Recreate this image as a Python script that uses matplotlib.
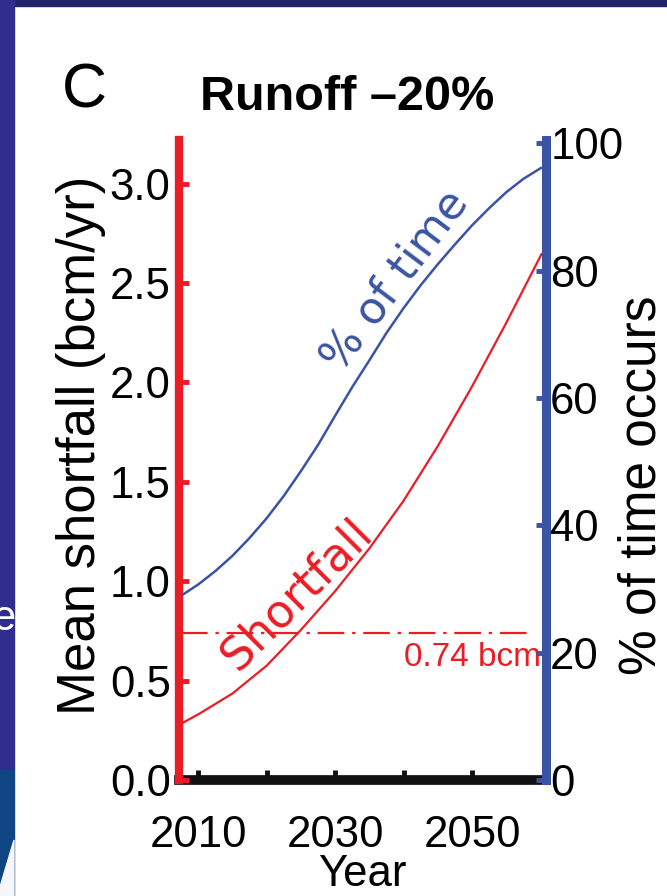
import numpy as np
import matplotlib
matplotlib.use("Agg")
import matplotlib.pyplot as plt
from matplotlib.patches import Rectangle, Polygon


# ---------------------------------------
# Data
# ---------------------------------------

years_pct = [2007.6, 2010, 2012.5, 2015, 2017.5, 2020, 2022.5, 2025,
             2027.5, 2030, 2032.5, 2035, 2037.5, 2040, 2042.5, 2045,
             2047.5, 2050, 2052.5, 2055, 2057.5, 2060.2]
pct_time = [29.0, 30.7, 32.8, 35.2, 38.0, 41.1, 44.6, 48.5,
            52.6, 57.2, 61.7, 65.9, 70.2, 74.1, 77.7, 81.0,
            84.1, 87.1, 89.8, 92.3, 94.4, 96.2]

years_short = [2007.6, 2010, 2015, 2020, 2025, 2030,
               2035, 2040, 2045, 2050, 2055, 2060.2]
shortfall = [0.285, 0.33, 0.435, 0.575, 0.755, 0.95,
             1.165, 1.405, 1.68, 1.98, 2.30, 2.65]

threshold = 0.74
threshold_span = [2007.5, 2058.0]

left_ticks = [0.0, 0.5, 1.0, 1.5, 2.0, 2.5, 3.0]
right_ticks = [0, 20, 40, 60, 80, 100]
year_ticks = [2010, 2020, 2030, 2040, 2050]
year_labels = ["2010", "", "2030", "", "2050"]


RED = "#ec1c24"
BLUE = "#3a53a4"
FONT = "Liberation Sans"

plt.rcParams["font.family"] = FONT


fig = plt.figure(figsize=(6.67, 8.96), dpi=100)

# slide background bits around the panel
fig.patches.append(Rectangle((0, 1 - 6 / 896), 1, 6 / 896,
                             transform=fig.transFigure, color="#22226a", zorder=0))
fig.patches.append(Rectangle((0, 126 / 896), 14 / 667, 1,
                             transform=fig.transFigure, color="#302d8e", zorder=0))
fig.patches.append(Rectangle((0, 0), 14 / 667, 126 / 896,
                             transform=fig.transFigure, color="#0f4582", zorder=0))
fig.patches.append(Polygon([(0, 0), (14 / 667, 0), (14 / 667, 56 / 896), (0, 9 / 896)],
                           closed=True, transform=fig.transFigure,
                           color="#f4f6fa", zorder=0))
fig.text(-0.012, 1 - 630 / 896, "e", color="white", fontsize=30, zorder=1)


ax = fig.add_axes([179 / 667, 116 / 896, 367 / 667, 640 / 896])
ax2 = ax.twinx()

ax.set_xlim(2007.2, 2060.8)
ax.set_ylim(0, 3.22)
ax2.set_ylim(0, 100.5)


# ---------------------------------------
# Curves
# ---------------------------------------

ax2.plot(years_pct, pct_time, color=BLUE, lw=1.8, solid_capstyle="butt",
         solid_joinstyle="round")

ax.plot(years_short, shortfall, color=RED, lw=1.6, solid_capstyle="butt",
        solid_joinstyle="round")

ax.plot(threshold_span, [threshold, threshold],
        color=RED, lw=1.6, ls=(0, (12, 3.5, 1.5, 3.5)))

ax.text(2060.0, 0.618, "0.74 bcm", color=RED, fontsize=24,
        ha="right", va="center")

ax.text(2038.7, 2.51, "% of time", color=BLUE, fontsize=32,
        family="DejaVu Sans", rotation=53, ha="center", va="center",
        rotation_mode="anchor")

ax.text(2024.4, 0.93, "Shortfall", color=RED, fontsize=33,
        family="DejaVu Sans", rotation=45, ha="center", va="center",
        rotation_mode="anchor")


# ---------------------------------------
# Axes styling
# ---------------------------------------

for s in ["top", "right"]:
    ax.spines[s].set_visible(False)
for s in ["top", "left", "bottom"]:
    ax2.spines[s].set_visible(False)

ax.spines["left"].set_color(RED)
ax.spines["left"].set_linewidth(6)
ax.spines["left"].set_capstyle("projecting")
ax.spines["bottom"].set_color("#111111")
ax.spines["bottom"].set_linewidth(7)
ax.spines["bottom"].set_zorder(1)
ax2.spines["right"].set_color(BLUE)
ax2.spines["right"].set_linewidth(6.5)
ax2.spines["right"].set_capstyle("projecting")

ax.set_yticks(left_ticks)
ax.set_yticklabels([f"{v:.1f}" for v in left_ticks])
ax2.set_yticks(right_ticks)
ax2.set_yticklabels([str(v) for v in right_ticks])
ax.set_xticks(year_ticks)
ax.set_xticklabels(year_labels)

ax.tick_params(axis="y", direction="in", length=7, width=3.5,
               color=RED, labelsize=31.5, pad=6)
ax.tick_params(axis="x", direction="in", length=7, width=3.5,
               color="#111111", labelsize=31.5, pad=25)
ax2.tick_params(axis="y", direction="in", length=7, width=3.5,
                color=BLUE, labelsize=31.5, pad=3)

ax.set_xlabel("Year", fontsize=31.5, labelpad=-1)
ax.set_ylabel("Mean shortfall (bcm/yr)", fontsize=38)
ax.yaxis.set_label_coords(-0.198, 0.523)
ax2.set_ylabel("% of time occurs", fontsize=37, rotation=90)
ax2.yaxis.set_label_coords(1.195, 0.461)

ax.patch.set_visible(False)

fig.text(62 / 667, 1 - 108 / 896, "C", fontsize=45, va="baseline", ha="left")
fig.text(200 / 667, 1 - 110 / 896, "Runoff \u201320%", fontsize=35,
         fontweight="bold", va="baseline", ha="left")


fig.savefig("out.png", dpi=100)
